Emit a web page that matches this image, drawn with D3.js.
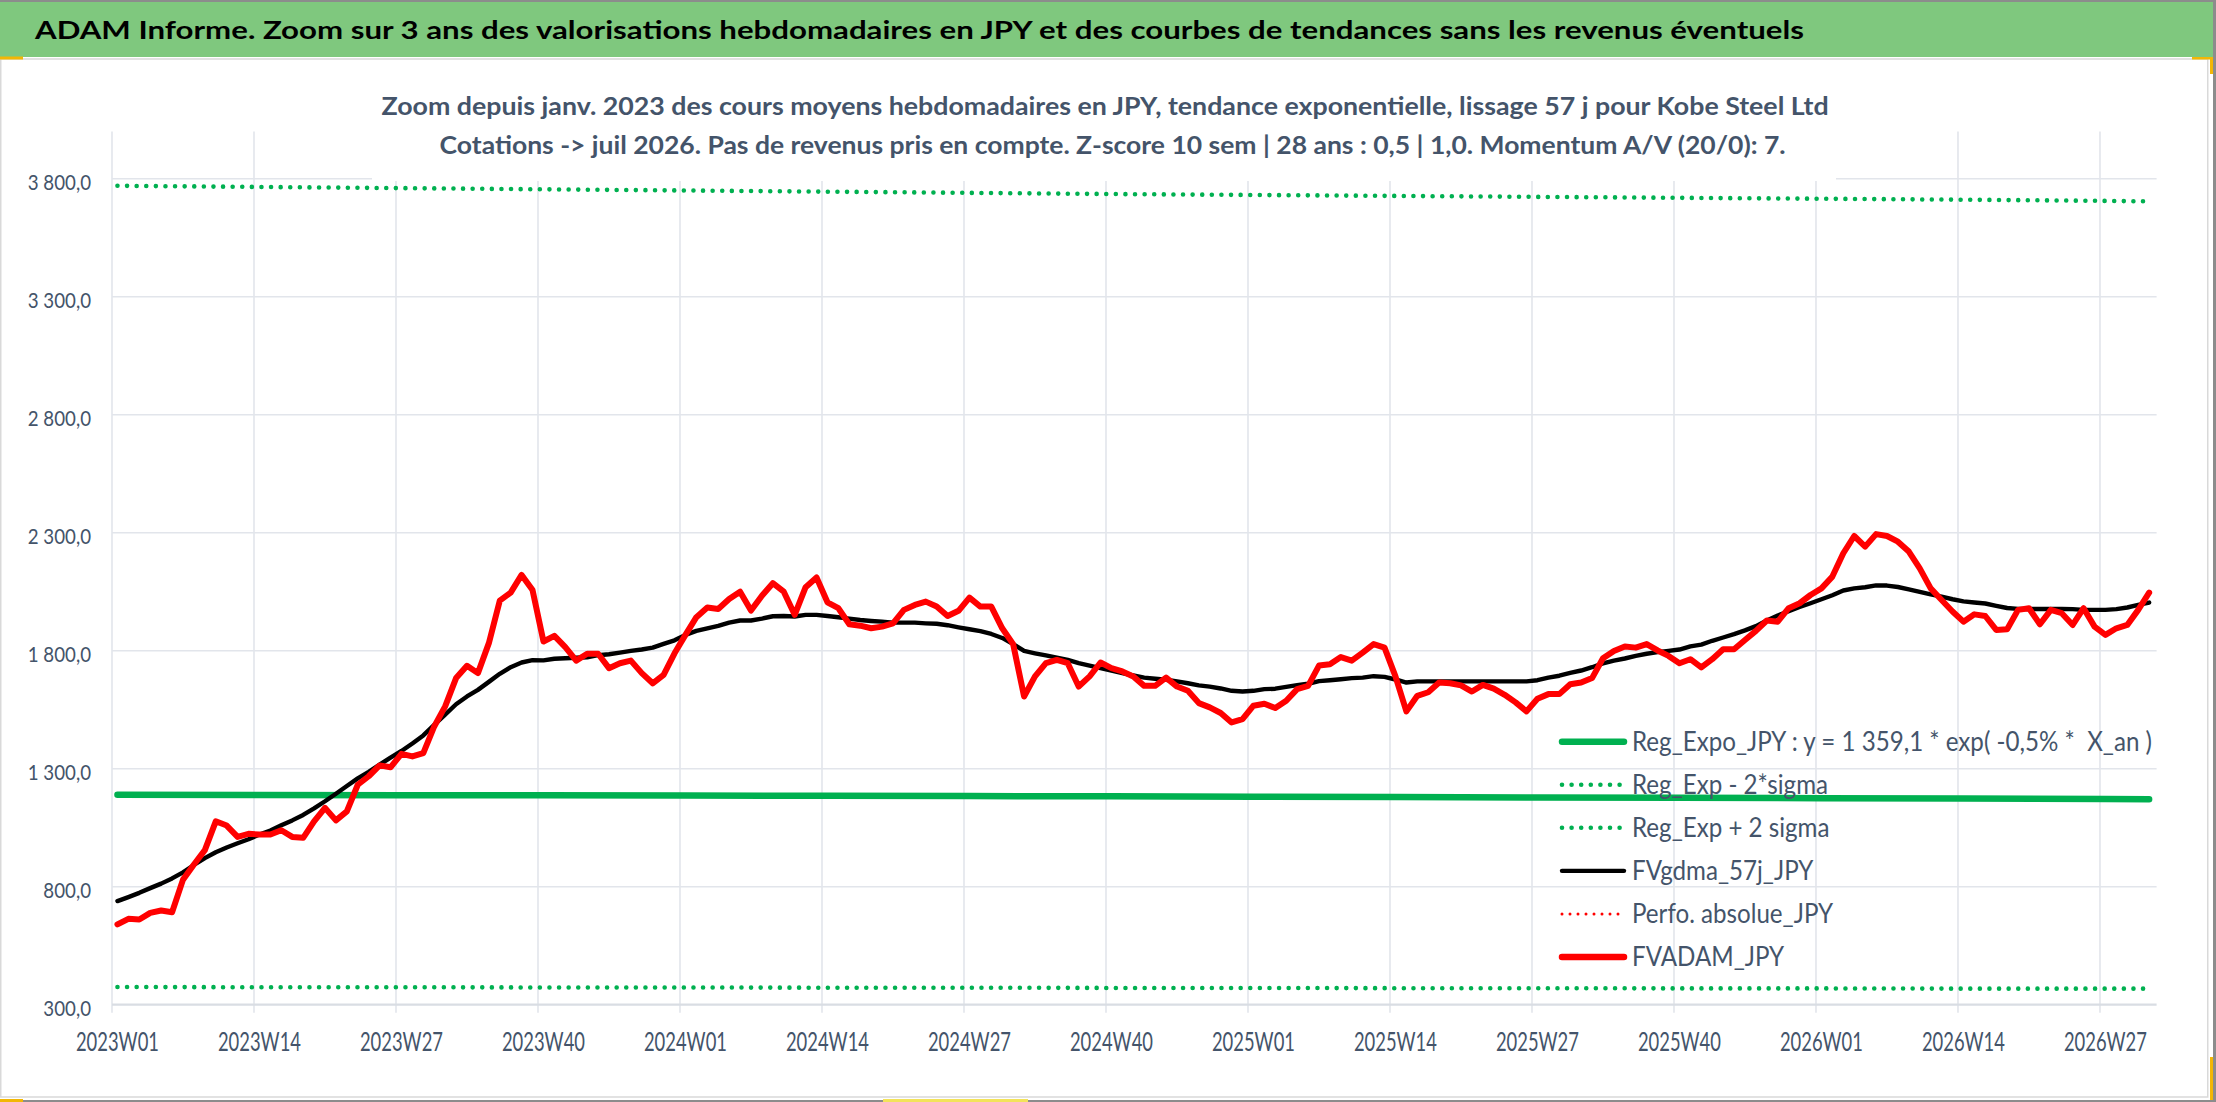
<!DOCTYPE html>
<html>
<head>
<meta charset="utf-8">
<title>ADAM Informe - Kobe Steel Ltd (JPY)</title>
<script src="https://cdn.jsdelivr.net/npm/d3@7"></script>
<style>
  body { margin: 0; background: #fff; }
  svg text { font-family: Lato, "Open Sans", sans-serif; }
</style>
</head>
<body>
<script>
// ---- data ----
var years = [2023, 2024, 2025, 2026];
var weeksPerYear = [52, 52, 52, 31];
var xTickLabels = ["2023W01", "2023W14", "2023W27", "2023W40", "2024W01", "2024W14", "2024W27",
  "2024W40", "2025W01", "2025W14", "2025W27", "2025W40", "2026W01", "2026W14", "2026W27"];
var yTicks = [300, 800, 1300, 1800, 2300, 2800, 3300, 3800];

// FVADAM_JPY, weekly
var fvadam = [
  640, 664, 661, 689, 699, 692, 830, 894, 955, 1077,
  1059, 1011, 1024, 1021, 1021, 1039, 1011, 1007, 1077, 1134,
  1081, 1119, 1232, 1268, 1314, 1306, 1363, 1352, 1366, 1479,
  1564, 1684, 1736, 1705, 1832, 2012, 2046, 2121, 2057, 1839,
  1863, 1815, 1758, 1787, 1787, 1726, 1747, 1758, 1705, 1662,
  1698, 1789, 1867, 1942, 1983, 1977, 2019, 2050, 1970, 2033,
  2086, 2050, 1952, 2069, 2110, 2005, 1980, 1912, 1906, 1895,
  1902, 1916, 1973, 1994, 2008, 1987, 1947, 1969, 2025, 1987,
  1987, 1895, 1828, 1606, 1691, 1747, 1761, 1747, 1648, 1691,
  1750, 1726, 1712, 1691, 1651, 1651, 1686, 1648, 1630, 1578,
  1560, 1536, 1496, 1510, 1567, 1575, 1557, 1588, 1637, 1651,
  1737, 1743, 1773, 1758, 1792, 1828, 1813, 1691, 1543, 1609,
  1624, 1665, 1662, 1653, 1627, 1655, 1639, 1613, 1581, 1543,
  1596, 1616, 1616, 1658, 1665, 1684, 1768, 1799, 1818, 1813,
  1828, 1801, 1778, 1747, 1764, 1729, 1764, 1806, 1806, 1845,
  1884, 1928, 1923, 1980, 2001, 2036, 2064, 2114, 2213, 2286,
  2241, 2294, 2286, 2262, 2220, 2149, 2064, 2015, 1966, 1923,
  1954, 1947, 1888, 1891, 1973, 1980, 1912, 1973, 1959, 1909,
  1980, 1902, 1867, 1895, 1909, 1973, 2046
];

// FVgdma_57j_JPY, weekly
var fvgdma = [
  739, 756, 774, 794, 813, 835, 861, 892, 921, 946,
  966, 984, 1001, 1021, 1038, 1060, 1081, 1104, 1132, 1162,
  1194, 1227, 1259, 1287, 1317, 1347, 1375, 1407, 1441, 1486,
  1529, 1573, 1606, 1634, 1668, 1702, 1730, 1750, 1760, 1759,
  1766, 1768, 1770, 1772, 1781, 1785, 1792, 1799, 1805, 1813,
  1829, 1844, 1867, 1884, 1895, 1905, 1919, 1928, 1928, 1936,
  1946, 1947, 1945, 1952, 1952, 1947, 1942, 1936, 1930, 1926,
  1923, 1919, 1919, 1919, 1916, 1914, 1908, 1899, 1891, 1883,
  1871, 1854, 1828, 1799, 1789, 1780, 1771, 1761, 1747, 1737,
  1726, 1716, 1705, 1695, 1686, 1681, 1677, 1670, 1662, 1653,
  1648, 1640, 1630, 1627, 1630, 1637, 1639, 1647, 1654, 1660,
  1671, 1675, 1679, 1684, 1686, 1692, 1689, 1678, 1665, 1670,
  1670, 1670, 1670, 1670, 1670, 1670, 1670, 1670, 1670, 1670,
  1675, 1686, 1694, 1706, 1716, 1730, 1746, 1758, 1767, 1778,
  1787, 1794, 1799, 1805, 1818, 1826, 1842, 1856, 1870, 1886,
  1904, 1928, 1949, 1967, 1985, 2001, 2018, 2035, 2055, 2064,
  2069, 2077, 2076, 2070, 2060, 2049, 2039, 2029, 2018, 2009,
  2004, 2000, 1990, 1981, 1977, 1977, 1977, 1977, 1977, 1976,
  1973, 1973, 1973, 1976, 1983, 1994, 2004
];

// regression and bands, read at every 13th week plus the last one
var trendIdx   = [0, 13, 26, 39, 52, 65, 78, 91, 104, 117, 130, 143, 156, 169, 182, 186];
var regExpo    = [1190, 1189, 1188, 1187, 1186, 1185, 1184, 1183, 1181, 1180, 1178, 1177, 1175, 1174, 1172, 1171];
var regMinus2s = [375, 374, 374, 373, 373, 372, 372, 371, 371, 370, 370, 369, 369, 368, 368, 368];
var regPlus2s  = [3770, 3765, 3760, 3755, 3750, 3745, 3740, 3735, 3731, 3727, 3723, 3719, 3715, 3711, 3706, 3704];

var legendNames = [
  "Reg_Expo_JPY : y = 1 359,1 * exp( -0,5% *  X_an )",
  "Reg_Exp - 2*sigma",
  "Reg_Exp + 2 sigma",
  "FVgdma_57j_JPY",
  "Perfo. absolue_JPY",
  "FVADAM_JPY"
];

var mainTitle = "ADAM Informe. Zoom sur 3 ans des valorisations hebdomadaires en JPY et des courbes de tendances sans les revenus éventuels";
var subTitle1 = "Zoom depuis janv. 2023 des cours moyens hebdomadaires en JPY, tendance exponentielle, lissage 57 j pour Kobe Steel Ltd";
var subTitle2 = "Cotations -> juil 2026. Pas de revenus pris en compte. Z-score 10 sem | 28 ans : 0,5 | 1,0. Momentum A/V (20/0): 7.";

// ---- build week categories ----
var weeks = [];
years.forEach(function (yr, j) {
  for (var w = 1; w <= weeksPerYear[j]; w++) weeks.push(yr + "W" + (w < 10 ? "0" : "") + w);
});

// ---- layout ----
var width = 2216, height = 1102;
var plot = { left: 112, right: 2154.6, top: 131.5, bottom: 1004.7 };
var textCol = "#44546A", gridCol = "#E2E5EB", green = "#00B050";

var svg = d3.select("body").append("svg")
  .attr("width", width).attr("height", height);

// frame, banner, spreadsheet bits
svg.append("rect").attr("width", width).attr("height", height).attr("fill", "#fff");
svg.append("rect").attr("x", 0.75).attr("y", 59).attr("width", 2207).attr("height", 1038)
  .attr("fill", "#fff").attr("stroke", "#D9D9D9").attr("stroke-width", 1.5);
svg.append("rect").attr("x", 0).attr("y", 0).attr("width", 2213).attr("height", 57).attr("fill", "#7FC87E");
svg.append("rect").attr("x", 0).attr("y", 0).attr("width", width).attr("height", 2).attr("fill", "#8C8C8C");
svg.append("rect").attr("x", 2213).attr("y", 0).attr("width", 3).attr("height", height).attr("fill", "#8C8C8C");
svg.append("rect").attr("x", 0).attr("y", 1100).attr("width", width).attr("height", 2).attr("fill", "#8C8C8C");
[[0, 56.5, 23, 3], [2192, 57, 21, 2.5], [2210, 57, 3, 17], [2210, 1057, 3, 43], [0, 1099, 23, 3]]
  .forEach(function (r) {
    svg.append("rect").attr("x", r[0]).attr("y", r[1]).attr("width", r[2]).attr("height", r[3]).attr("fill", "#F2B705");
  });
svg.append("rect").attr("x", 883).attr("y", 1099).attr("width", 145).attr("height", 3).attr("fill", "#F3E35A");

// ---- scales ----
var x = d3.scaleBand().domain(weeks).range([plot.left, plot.right]).padding(0);
var bw = x.bandwidth();
var y = d3.scaleLinear().domain([300, 4000]).range([plot.bottom, plot.top]);
var cx = function (i) { return x(weeks[i]) + bw / 2; };

// ---- grid ----
var grid = svg.append("g").attr("id", "grid");
grid.selectAll("line.v").data(xTickLabels).enter().append("line")
  .attr("class", "v")
  .attr("x1", function (d) { return x(d); }).attr("x2", function (d) { return x(d); })
  .attr("y1", plot.top).attr("y2", plot.bottom + 8)
  .attr("stroke", gridCol).attr("stroke-width", 1.6);
grid.selectAll("line.h").data(yTicks).enter().append("line")
  .attr("class", "h")
  .attr("x1", plot.left).attr("x2", plot.right + 2)
  .attr("y1", function (d) { return y(d); }).attr("y2", function (d) { return y(d); })
  .attr("stroke", function (d) { return d === 300 ? "#D9DDE3" : gridCol; })
  .attr("stroke-width", function (d) { return d === 300 ? 2.2 : 1.6; });

// the subtitle box hides the grid behind it
svg.append("rect").attr("x", 372).attr("y", 62).attr("width", 1464).attr("height", 119).attr("fill", "#fff");

// ---- series ----
var trendLine = function (vals) {
  return d3.line().x(function (d, j) { return cx(trendIdx[j]); }).y(function (d) { return y(d); })(vals);
};
var weekLine = d3.line().x(function (d, i) { return cx(i); }).y(function (d) { return y(d); });

var series = svg.append("g").attr("id", "series")
  .attr("fill", "none").attr("stroke-linejoin", "round").attr("stroke-linecap", "round");

series.append("path").attr("d", trendLine(regExpo))
  .attr("stroke", green).attr("stroke-width", 6.5);
[regMinus2s, regPlus2s].forEach(function (vals) {
  series.append("path").attr("d", trendLine(vals))
    .attr("stroke", green).attr("stroke-width", 4.6).attr("stroke-dasharray", "0 9.6");
});
series.append("path").attr("d", weekLine(fvgdma))
  .attr("stroke", "#000").attr("stroke-width", 4.4);
series.append("path").attr("d", weekLine(fvadam))
  .attr("stroke", "#FF0000").attr("stroke-width", 6);

// ---- axes ----
var frFmt = d3.formatLocale({ decimal: ",", thousands: " ", grouping: [3], currency: ["", ""] }).format(",.1f");

var yAxis = svg.append("g").attr("id", "y_axis")
  .attr("transform", "translate(" + plot.left + ",0)")
  .call(d3.axisLeft(y).tickValues(yTicks).tickSize(0).tickPadding(21).tickFormat(frFmt));
yAxis.select(".domain").remove();
yAxis.selectAll("text").attr("dy", "0.5em").attr("fill", textCol)
  .style("font-size", "22px").style("font-family", "Lato, sans-serif");

var xAxis = svg.append("g").attr("id", "x_axis")
  .attr("transform", "translate(0," + plot.bottom + ")")
  .call(d3.axisBottom(x).tickValues(xTickLabels).tickSize(0));
xAxis.select(".domain").remove();
xAxis.selectAll("text").attr("y", 46).attr("dy", 0).attr("fill", textCol)
  .style("font-size", "26.5px").style("font-family", "Lato, sans-serif")
  .attr("textLength", 83).attr("lengthAdjust", "spacingAndGlyphs");

// squeeze y labels to the narrow face of the original
var refY = yAxis.selectAll("text").filter(function (d) { return d === 300; }).node();
var sy = 47.7 / refY.getComputedTextLength();
yAxis.selectAll("text").each(function () {
  d3.select(this).attr("textLength", this.getComputedTextLength() * sy).attr("lengthAdjust", "spacingAndGlyphs");
});

// ---- titles ----
svg.append("text").attr("id", "title").attr("x", 35).attr("y", 39)
  .attr("fill", "#000").style("font-size", "25.5px").style("font-weight", "bold")
  .attr("textLength", 1769).attr("lengthAdjust", "spacingAndGlyphs")
  .text(mainTitle);
svg.append("text").attr("x", 381.6).attr("y", 115)
  .attr("fill", textCol).style("font-size", "25.5px").style("font-weight", "bold")
  .attr("textLength", 1447).attr("lengthAdjust", "spacingAndGlyphs")
  .text(subTitle1);
svg.append("text").attr("x", 439.6).attr("y", 154)
  .attr("fill", textCol).style("font-size", "25.5px").style("font-weight", "bold")
  .attr("textLength", 1346).attr("lengthAdjust", "spacingAndGlyphs")
  .text(subTitle2);

// ---- legend ----
var legendStyle = [
  { color: green, width: 6.5, dash: null },
  { color: green, width: 4.6, dash: "0 9.6" },
  { color: green, width: 4.6, dash: "0 9.6" },
  { color: "#000", width: 4.4, dash: null },
  { color: "#FF0000", width: 3, dash: "0 8" },
  { color: "#FF0000", width: 6.5, dash: null }
];
var legend = svg.append("g").attr("id", "legend");
var items = legend.selectAll("g").data(legendNames).enter().append("g")
  .attr("transform", function (d, i) { return "translate(1560," + (741.7 + 43.05 * i) + ")"; });
items.append("line")
  .attr("x1", 2).attr("x2", 64).attr("y1", 0).attr("y2", 0)
  .attr("stroke-linecap", "round")
  .attr("stroke", function (d, i) { return legendStyle[i].color; })
  .attr("stroke-width", function (d, i) { return legendStyle[i].width; })
  .attr("stroke-dasharray", function (d, i) { return legendStyle[i].dash; });
items.append("text")
  .attr("x", 72).attr("y", 9.3)
  .attr("fill", textCol).style("font-size", "26px")
  .style("white-space", "pre")
  .text(function (d) { return d; });

var sl = 520 / items.select("text").node().getComputedTextLength();
items.selectAll("text").each(function () {
  d3.select(this).attr("textLength", this.getComputedTextLength() * sl).attr("lengthAdjust", "spacingAndGlyphs");
});
</script>
</body>
</html>
